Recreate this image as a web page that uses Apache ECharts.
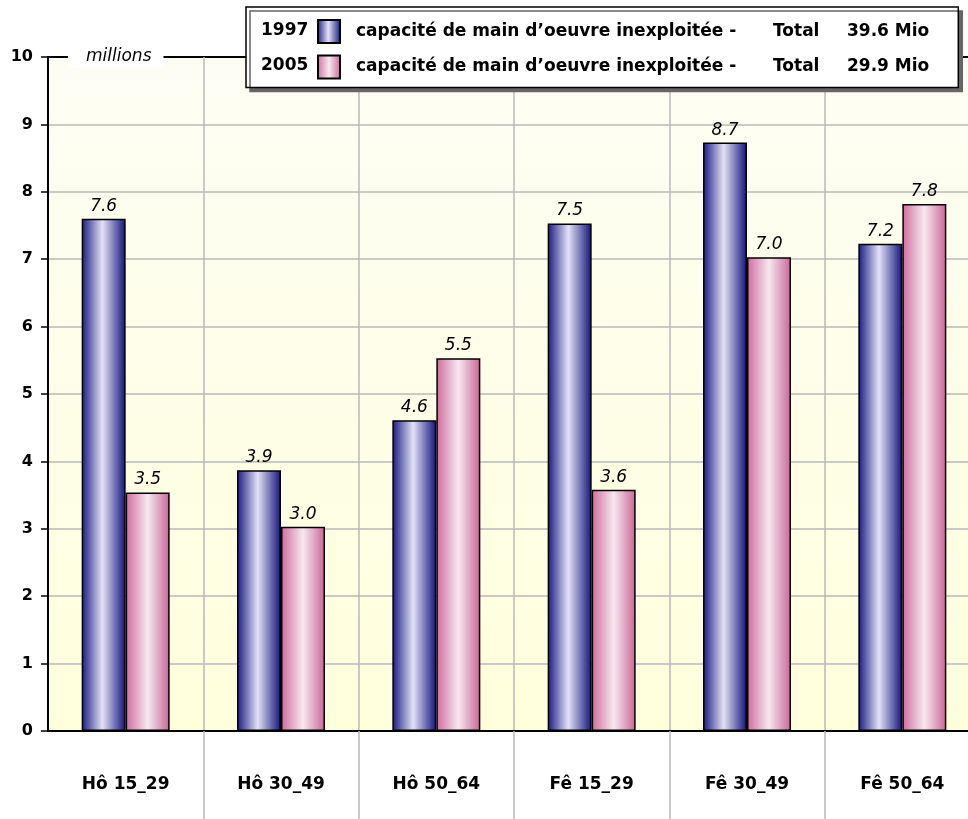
<!DOCTYPE html>
<html>
<head>
<meta charset="utf-8">
<script src="https://cdn.jsdelivr.net/npm/echarts@6/dist/echarts.min.js"></script>
<style>
  html, body { margin: 0; padding: 0; background: #fff; }
  #chart { width: 968px; height: 819px; }
</style>
</head>
<body>
<div id="chart"></div>
<script>
// values (millions)
const categories = ['Hô 15_29', 'Hô 30_49', 'Hô 50_64', 'Fê 15_29', 'Fê 30_49', 'Fê 50_64'];
const years = ['1997', '2005'];
const values1997 = [7.60, 3.87, 4.61, 7.53, 8.73, 7.23];
const values2005 = [3.54, 3.03, 5.53, 3.58, 7.03, 7.82];
const totals = ['39.6 Mio', '29.9 Mio'];
const legendText = 'capacité de main d’oeuvre inexploitée -';
const totalWord = 'Total';
const yUnit = 'millions';

const FONT = '"DejaVu Sans", sans-serif';
const chart = echarts.init(document.getElementById('chart'));

const blueFill = new echarts.graphic.LinearGradient(0, 0, 1, 0, [
  { offset: 0, color: '#181882' },
  { offset: 0.47, color: '#e2e2f6' },
  { offset: 1, color: '#12127c' },
]);
const pinkFill = new echarts.graphic.LinearGradient(0, 0, 1, 0, [
  { offset: 0, color: '#d06a9c' },
  { offset: 0.5, color: '#f6e8f0' },
  { offset: 1, color: '#ca6496' },
]);

const barLabel = {
  show: true,
  position: 'top',
  distance: 4,
  fontFamily: FONT,
  fontStyle: 'italic',
  fontSize: 17,
  color: '#000',
  formatter: (p) => Number(p.value).toFixed(1),
};

const richBase = { fontFamily: FONT, fontWeight: 'bold', fontSize: 17, color: '#000', lineHeight: 20 };

chart.setOption({
  animation: false,
  grid: {
    // the plot runs a little past the right edge of the picture
    left: 48, width: 932, top: 57, bottom: 88,
    outerBoundsMode: 'none',
    show: true,
    borderColor: '#000',
    borderWidth: 2,
    backgroundColor: new echarts.graphic.LinearGradient(0, 0, 0, 1, [
      { offset: 0, color: '#fdfdf4' },
      { offset: 1, color: '#ffffdc' },
    ]),
  },
  legend: {
    orient: 'vertical',
    left: 246,
    top: 7,
    padding: [12, 29, 8, 71],
    itemGap: 10.5,
    itemWidth: 22,
    itemHeight: 23,
    icon: 'rect',
    selectedMode: false,
    backgroundColor: '#fff',
    borderColor: '#000',
    borderWidth: 1.5,
    shadowColor: '#666',
    shadowBlur: 0,
    shadowOffsetX: 4,
    shadowOffsetY: 4,
    data: years,
    textStyle: {
      ...richBase,
      rich: {
        s: { ...richBase, width: 11 },
        a: { ...richBase, width: 417 },
        b: { ...richBase, width: 74 },
        c: { ...richBase, width: 82 },
      },
    },
    formatter: (name) => {
      const i = years.indexOf(name);
      return `{s|}{a|${legendText}}{b|${totalWord}}{c|${totals[i]}}`;
    },
  },
  graphic: [
    ...years.map((y, i) => ({
      type: 'text',
      x: 261,
      y: 31 + i * 35,
      z: 100,
      style: {
        text: y,
        font: `bold 17px ${FONT}`,
        fill: '#000',
        verticalAlign: 'middle',
      },
    })),
    {
      type: 'text',
      x: 68,
      y: 57,
      z: 100,
      style: {
        text: yUnit,
        font: `italic 17px ${FONT}`,
        fill: '#000',
        verticalAlign: 'middle',
        backgroundColor: '#fff',
        padding: [1, 12, 1, 18],
      },
    },
  ],
  xAxis: {
    type: 'category',
    data: categories,
    axisLine: { lineStyle: { color: '#000', width: 2 } },
    axisTick: {
      show: true,
      length: 88,
      interval: (i) => i > 0,
      lineStyle: { color: '#b8b8b8', width: 1.5 },
    },
    axisLabel: {
      margin: 45,
      fontFamily: FONT,
      fontWeight: 'bold',
      fontSize: 17,
      color: '#000',
    },
    splitLine: { show: true, showMinLine: false, lineStyle: { color: '#b8b8b8', width: 1.5 } },
  },
  yAxis: {
    type: 'value',
    min: 0,
    max: 10,
    interval: 1,
    axisLine: { show: true, lineStyle: { color: '#000', width: 2 } },
    axisTick: { show: true, length: 7, lineStyle: { color: '#000', width: 1.5 } },
    axisLabel: {
      margin: 15,
      fontFamily: FONT,
      fontWeight: 'bold',
      fontSize: 16,
      color: '#000',
    },
    splitLine: { show: true, showMaxLine: false, lineStyle: { color: '#b8b8b8', width: 1.5 } },
  },
  series: [
    {
      name: years[0],
      type: 'bar',
      data: values1997,
      barWidth: 44,
      barGap: '0%',
      itemStyle: { color: blueFill, borderColor: '#000', borderWidth: 1.5 },
      label: barLabel,
    },
    {
      name: years[1],
      type: 'bar',
      data: values2005,
      barWidth: 44,
      itemStyle: { color: pinkFill, borderColor: '#000', borderWidth: 1.5 },
      label: barLabel,
    },
  ],
});
</script>
</body>
</html>
